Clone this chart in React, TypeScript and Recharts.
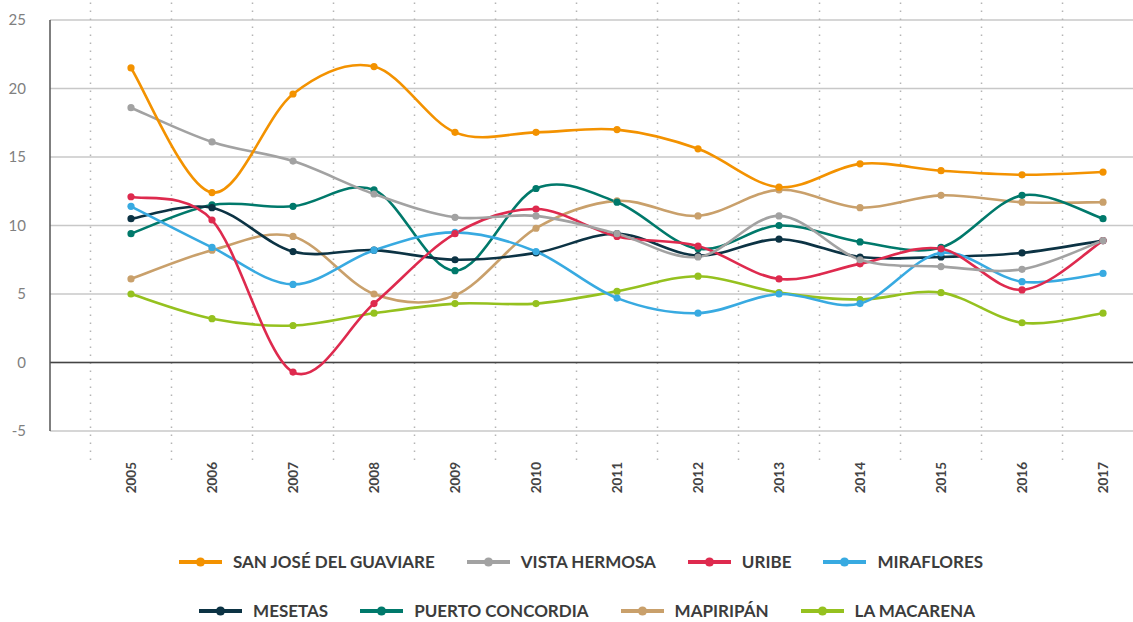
import React from "react";
import { LineChart, Line, XAxis, YAxis, CartesianGrid, ReferenceLine } from "recharts";

const years = [2005, 2006, 2007, 2008, 2009, 2010, 2011, 2012, 2013, 2014, 2015, 2016, 2017];
const yTicks = [-5, 0, 5, 10, 15, 20, 25];

const sanJose = [21.5, 12.4, 19.6, 21.6, 16.8, 16.8, 17.0, 15.6, 12.8, 14.5, 14.0, 13.7, 13.9];
const vistaHermosa = [18.6, 16.1, 14.7, 12.3, 10.6, 10.7, 9.4, 7.7, 10.7, 7.5, 7.0, 6.8, 8.9];
const uribe = [12.1, 10.4, -0.7, 4.3, 9.4, 11.2, 9.2, 8.5, 6.1, 7.2, 8.3, 5.3, 8.9];
const miraflores = [11.4, 8.4, 5.7, 8.2, 9.5, 8.1, 4.7, 3.6, 5.0, 4.3, 8.0, 5.9, 6.5];
const mesetas = [10.5, 11.3, 8.1, 8.2, 7.5, 8.0, 9.4, 7.8, 9.0, 7.7, 7.7, 8.0, 8.9];
const puertoConcordia = [9.4, 11.5, 11.4, 12.6, 6.7, 12.7, 11.7, 8.3, 10.0, 8.8, 8.4, 12.2, 10.5];
const mapiripan = [6.1, 8.2, 9.2, 5.0, 4.9, 9.8, 11.8, 10.7, 12.6, 11.3, 12.2, 11.7, 11.7];
const laMacarena = [5.0, 3.2, 2.7, 3.6, 4.3, 4.3, 5.2, 6.3, 5.1, 4.6, 5.1, 2.9, 3.6];

const series = [
  { key: "sanJose", name: "SAN JOSÉ DEL GUAVIARE", color: "#F39200", values: sanJose },
  { key: "vistaHermosa", name: "VISTA HERMOSA", color: "#A2A2A2", values: vistaHermosa },
  { key: "uribe", name: "URIBE", color: "#DE2A4E", values: uribe },
  { key: "miraflores", name: "MIRAFLORES", color: "#38AAE1", values: miraflores },
  { key: "mesetas", name: "MESETAS", color: "#0C3344", values: mesetas },
  { key: "puertoConcordia", name: "PUERTO CONCORDIA", color: "#00796B", values: puertoConcordia },
  { key: "mapiripan", name: "MAPIRIPÁN", color: "#C9A06B", values: mapiripan },
  { key: "laMacarena", name: "LA MACARENA", color: "#95C11F", values: laMacarena },
];

const data = years.map((year, i) => {
  const row: Record<string, number> = { year };
  series.forEach((s) => (row[s.key] = s.values[i]));
  return row;
});

// Excel-like smoothed line (Catmull-Rom Bezier, 1/6 tension)
const excelCurve = (context: any) => {
  let pts: number[][] = [];
  return {
    areaStart() {},
    areaEnd() {},
    lineStart() {
      pts = [];
    },
    point(x: number, y: number) {
      pts.push([+x, +y]);
    },
    lineEnd() {
      const n = pts.length;
      if (!n) return;
      context.moveTo(pts[0][0], pts[0][1]);
      for (let i = 0; i < n - 1; i++) {
        const p0 = pts[i - 1] || pts[i];
        const p1 = pts[i];
        const p2 = pts[i + 1];
        const p3 = pts[i + 2] || p2;
        context.bezierCurveTo(
          p1[0] + (p2[0] - p0[0]) / 6,
          p1[1] + (p2[1] - p0[1]) / 6,
          p2[0] - (p3[0] - p1[0]) / 6,
          p2[1] - (p3[1] - p1[1]) / 6,
          p2[0],
          p2[1]
        );
      }
    },
  };
};

const XTick = (props: any) => {
  const { x, y, payload } = props;
  return (
    <g transform={`translate(${x},${y})`}>
      <text
        transform="rotate(-90)"
        textAnchor="end"
        dy="0.36em"
        fill="#444444"
        fontFamily="Lato, sans-serif"
        fontWeight={700}
        fontSize={13.5}
      >
        {payload.value}
      </text>
    </g>
  );
};

const LegendIcon = ({ color }: { color: string }) => (
  <svg width={43} height={12} style={{ display: "block" }}>
    <line x1={0} y1={6} x2={43} y2={6} stroke={color} strokeWidth={4} />
    <circle cx={21.5} cy={6} r={4.6} fill={color} />
  </svg>
);

const LegendRow = ({ items, top, center }: { items: typeof series; top: number; center: number }) => (
  <div
    style={{
      position: "absolute",
      top,
      left: center - 566.5,
      width: 1133,
      display: "flex",
      justifyContent: "center",
      alignItems: "center",
      height: 24,
    }}
  >
    {items.map((s, i) => (
      <div
        key={s.key}
        style={{ display: "flex", alignItems: "center", marginLeft: i === 0 ? 0 : 32 }}
      >
        <LegendIcon color={s.color} />
        <span
          style={{
            marginLeft: 11,
            fontFamily: "Lato, sans-serif",
            fontWeight: 700,
            fontSize: 17,
            color: "#3C3C3C",
            whiteSpace: "nowrap",
            lineHeight: "24px",
          }}
        >
          {s.name}
        </span>
      </div>
    ))}
  </div>
);

export default function App() {
  const drawOrder = [...series].reverse();
  return (
    <div style={{ position: "absolute", left: 0, top: 0, width: 1133, height: 622, background: "#fff" }}>
      <LineChart
        width={1133}
        height={622}
        data={data}
        margin={{ top: 20, right: 0, left: 0, bottom: 131 }}
      >
        <CartesianGrid vertical={false} stroke="#C8C8C8" strokeWidth={1.5} />
        {years.map((yr) => (
          <ReferenceLine
            key={"v" + yr}
            segment={[
              { x: yr - 0.5, y: -7.12 },
              { x: yr - 0.5, y: 26.46 },
            ]}
            ifOverflow="visible"
            stroke="#B4B4B4"
            strokeWidth={1.5}
            strokeDasharray="1.5 6.5"
          />
        ))}
        <XAxis
          dataKey="year"
          type="number"
          domain={[2004, 2017.37]}
          allowDataOverflow
          ticks={years}
          interval={0}
          axisLine={false}
          tickLine={false}
          tickSize={0}
          tickMargin={31}
          height={60}
          tick={<XTick />}
        />
        <YAxis
          domain={[-5, 25]}
          ticks={yTicks}
          interval={0}
          width={50}
          axisLine={{ stroke: "#555555", strokeWidth: 1.5 }}
          tickLine={false}
          tickSize={0}
          tickMargin={24}
          tick={{ fill: "#808080", fontSize: 15, fontFamily: "Lato, sans-serif" }}
        />
        <ReferenceLine y={0} stroke="#444444" strokeWidth={1.5} />
        {drawOrder.map((s) => (
          <Line
            key={s.key}
            dataKey={s.key}
            name={s.name}
            type={excelCurve as any}
            stroke={s.color}
            strokeWidth={2.6}
            dot={{ r: 3.6, fill: s.color, stroke: s.color, strokeWidth: 0 }}
            activeDot={false}
            isAnimationActive={false}
          />
        ))}
      </LineChart>
      <LegendRow items={series.slice(0, 4)} top={550} center={581} />
      <LegendRow items={series.slice(4)} top={599} center={587} />
    </div>
  );
}
